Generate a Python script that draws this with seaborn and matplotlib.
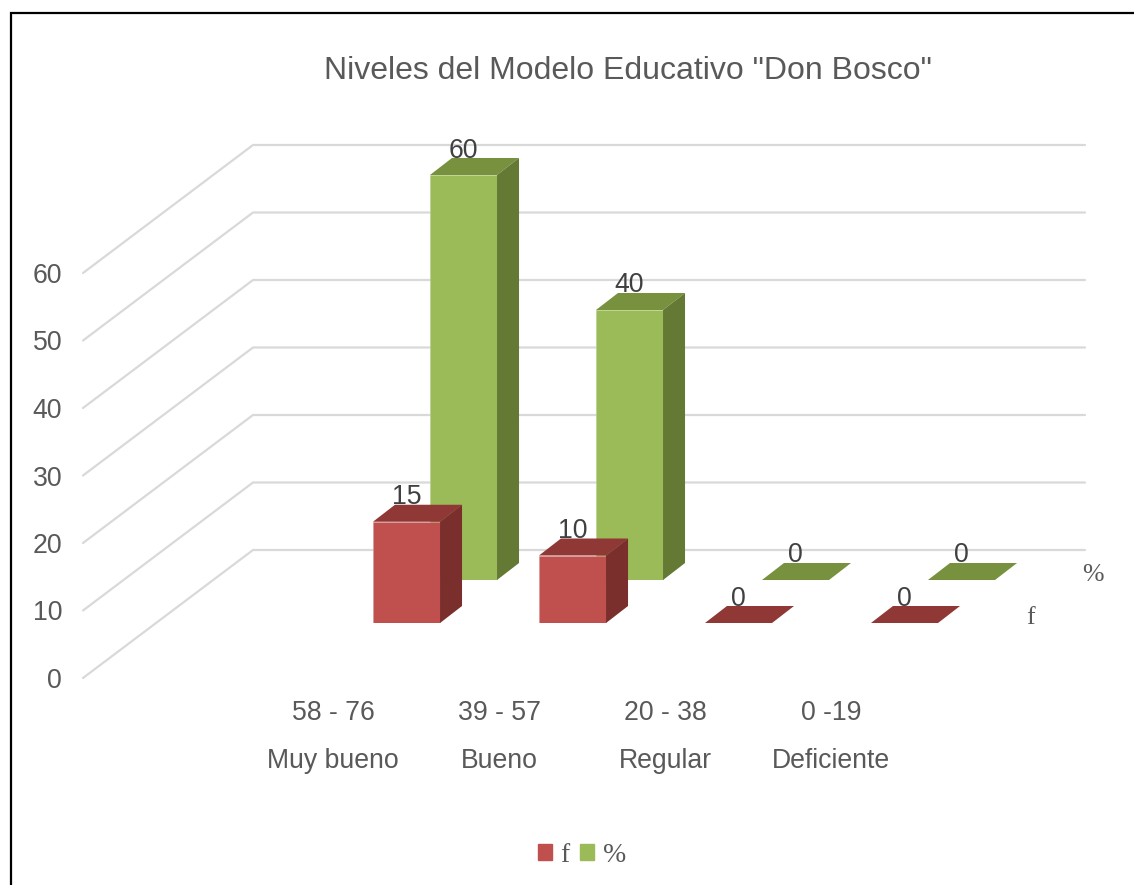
import matplotlib
matplotlib.use("Agg")
import matplotlib.pyplot as plt
from matplotlib.patches import Patch, Polygon
from matplotlib.transforms import IdentityTransform
import seaborn as sns

# data
rangos = ["58 - 76", "39 - 57", "20 - 38", "0 -19"]
niveles = ["Muy bueno", "Bueno", "Regular", "Deficiente"]
f_values = [15, 10, 0, 0]
pct_values = [60, 40, 0, 0]
y_ticks = [0, 10, 20, 30, 40, 50, 60]

W, H = 1134, 885
SCALE = 6.75          # px per unit
DEPTH = (22, 17)      # px, bar depth
SANS = "Liberation Sans"
SERIF = "Liberation Serif"

sns.set_style("white")
plt.rcParams["font.family"] = [SANS, "DejaVu Sans"]

fig = plt.figure(figsize=(W / 100, H / 100), dpi=100, facecolor="white")


def px_axes(left, right, top, bottom, z):
    ax = fig.add_axes([left / W, 1 - bottom / H, (right - left) / W, (bottom - top) / H])
    ax.set_zorder(z)
    ax.patch.set_visible(False)
    sns.despine(ax=ax, left=True, bottom=True)
    return ax


# background in picture pixels: border, title, gridlines, series names
bg = px_axes(0, W, 0, H, 0)
bg.set_xlim(0, W)
bg.set_ylim(H, 0)
bg.axis("off")
bg.plot([10.5, 10.5, W], [H, 12.5, 12.5], color="black", lw=1.6, solid_joinstyle="miter")
bg.text(628, 71, 'Niveles del Modelo Educativo "Don Bosco"', color="#595959",
        fontsize=23, ha="center", va="center")
for t in y_ticks:
    y = 550 - t * SCALE
    bg.plot([83, 253, 1085], [y + 128, y, y], color="#D9D9D9", lw=1.6)
bg.text(1093, 575, "%", family=SERIF, color="#595959", fontsize=18.5, ha="center", va="center")
bg.text(1030, 618, "f", family=SERIF, color="#595959", fontsize=18.5, ha="center", va="center")

# front plane, only carries the axis labels
front = px_axes(83, 997, 273, 678, 1)
front.set_xlim((83 - 333) / 166, (997 - 333) / 166)
front.set_ylim(0, 60)
front.set_yticks(y_ticks)
front.set_xticks(range(len(rangos)))
front.set_xticklabels([r + "\n" + n for r, n in zip(rangos, niveles)], linespacing=2.08)
front.tick_params(axis="y", length=0, pad=15, labelsize=19.2, labelcolor="#595959")
front.tick_params(axis="x", length=0, pad=16, labelsize=19.2, labelcolor="#595959")


def bars_3d(values, left, base, color, top_color, side_color, edge, z):
    top = base - 60 * SCALE
    ax = px_axes(left, left + 664, top, base, z)
    sns.barplot(x=rangos, y=values, color=color, saturation=1, width=0.404,
                edgecolor=edge, linewidth=0.4, ax=ax)
    ax.set_xlim(-0.5, 3.5)
    ax.set_ylim(0, 60)
    ax.set_xlabel("")
    ax.set_ylabel("")
    ax.set_xticks([])
    ax.set_yticks([])
    for bar, v in zip(ax.patches, values):
        cx = bar.get_x() + bar.get_width() / 2
        x0, y0 = ax.transData.transform((bar.get_x(), 0))
        x1, y1 = ax.transData.transform((bar.get_x() + bar.get_width(), v))
        dx, dy = DEPTH
        ax.add_patch(Polygon([(x0, y1), (x1, y1), (x1 + dx, y1 + dy), (x0 + dx, y1 + dy)],
                             transform=IdentityTransform(), facecolor=top_color,
                             linewidth=0, clip_on=False, zorder=3))
        if v > 0:
            ax.add_patch(Polygon([(x1, y0), (x1 + dx, y0 + dy), (x1 + dx, y1 + dy), (x1, y1)],
                                 transform=IdentityTransform(), facecolor=side_color,
                                 linewidth=0, clip_on=False, zorder=3))
        ax.annotate(str(v), xy=(cx, v), xytext=(0, 24.5 * 0.72), textcoords="offset points",
                    ha="center", va="center", fontsize=19.2, color="#404040",
                    annotation_clip=False, zorder=0.5)
    return ax


bars_3d(pct_values, 380.5, 580, "#9BBB59", "#77913F", "#637934", "#B9CF8A", 2)
bars_3d(f_values, 323.5, 623, "#C0504D", "#8F3836", "#7B2F2D", "#D99694", 3)

fig.legend(handles=[Patch(color="#C0504D", label="f"), Patch(color="#9BBB59", label="%")],
           loc="center", bbox_to_anchor=(582 / W, 1 - 855 / H), ncols=2, frameon=False,
           prop={"family": SERIF, "size": 20}, labelcolor="#595959",
           handlelength=0.5, handleheight=0.5, handletextpad=0.3, columnspacing=0.38)

fig.savefig("out.png", dpi=100)
